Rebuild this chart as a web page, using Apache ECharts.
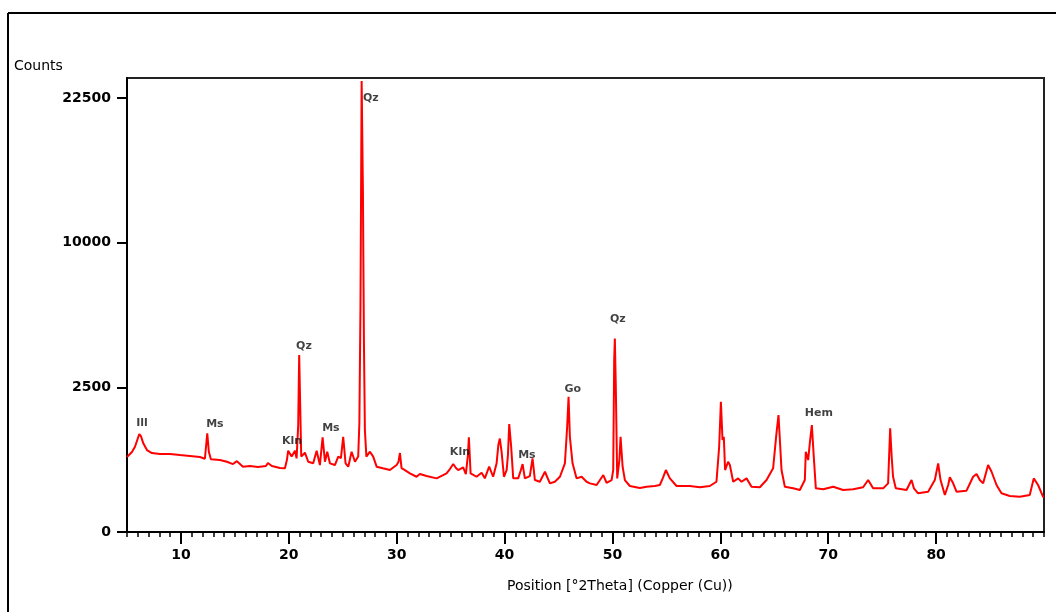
<!DOCTYPE html>
<html>
<head>
<meta charset="utf-8">
<script src="https://cdn.jsdelivr.net/npm/echarts@6/dist/echarts.min.js"></script>
<style>
  html, body { margin: 0; padding: 0; background: #fff; }
  #chart { width: 1056px; height: 612px; }
</style>
</head>
<body>
<div id="chart"></div>
<script>
// 2Theta positions (deg) and counts
const theta = [
  5.00, 5.46, 5.74, 6.14, 6.29, 6.51, 6.85, 7.31, 8.05, 8.98, 9.91, 10.83, 11.76, 12.22, 12.44, 12.59, 12.78,
  13.61, 14.26, 14.82, 15.19, 15.75, 16.39, 17.14, 17.88, 18.06, 18.43, 19.18, 19.64, 19.82, 19.94, 20.26,
  20.57, 20.72, 20.87, 20.96, 21.06, 21.15, 21.49, 21.80, 22.26, 22.58, 22.88, 23.13, 23.35, 23.56, 23.81,
  24.27, 24.58, 24.83, 25.04, 25.26, 25.51, 25.82, 26.13, 26.43, 26.54, 26.64, 26.75, 26.87, 26.96, 27.05,
  27.19, 27.52, 27.82, 28.14, 28.72, 29.37, 29.99, 30.16, 30.30, 30.45, 30.76, 31.22, 31.84, 32.15, 32.77,
  33.70, 34.62, 34.93, 35.24, 35.49, 35.70, 36.16, 36.41, 36.60, 36.69, 36.85, 37.40, 37.87, 38.17, 38.57,
  38.94, 39.26, 39.42, 39.56, 39.72, 39.94, 40.19, 40.31, 40.43, 40.61, 40.80, 41.26, 41.51, 41.67, 41.88,
  42.34, 42.59, 42.81, 43.27, 43.74, 44.20, 44.66, 45.13, 45.59, 45.80, 45.93, 46.05, 46.30, 46.67, 47.14,
  47.60, 47.91, 48.53, 49.15, 49.45, 49.92, 50.07, 50.16, 50.22, 50.31, 50.44, 50.64, 50.75, 50.94, 51.15,
  51.61, 52.54, 53.16, 53.92, 54.39, 54.67, 54.95, 55.32, 55.94, 57.17, 58.10, 59.02, 59.64, 59.89, 60.05,
  60.20, 60.32, 60.44, 60.72, 60.88, 61.19, 61.65, 61.96, 62.43, 62.89, 63.66, 64.28, 64.89, 65.20, 65.39,
  65.51, 65.67, 65.98, 66.75, 67.37, 67.83, 67.92, 68.14, 68.29, 68.48, 68.66, 68.85, 69.53, 70.46, 71.38,
  72.31, 73.23, 73.70, 74.16, 75.09, 75.55, 75.74, 75.89, 76.01, 76.26, 77.26, 77.72, 77.94, 78.33, 79.26,
  79.88, 80.19, 80.41, 80.81, 81.12, 81.27, 81.58, 81.89, 82.82, 83.43, 83.75, 84.05, 84.36, 84.82, 85.14,
  85.60, 86.06, 86.83, 87.76, 88.68, 89.05, 89.45, 89.91, 90.00
];
const counts = [
  672, 765, 869, 1148, 1101, 940, 803, 746, 727, 727, 708, 690, 672, 642, 1164, 765, 632,
  619, 590, 552, 600, 510, 520, 505, 520, 570, 520, 489, 485, 619, 790, 680,
  790, 648, 1368, 3743, 1830, 680, 752, 590, 564, 790, 536, 1072, 590, 771, 564,
  536, 680, 654, 1085, 564, 510, 771, 590, 680, 1420, 5979, 24336, 13707, 4405, 1243,
  680, 771, 680, 510, 485, 459, 536, 585, 746, 489, 459, 411, 365, 402, 374,
  344, 411, 474, 552, 489, 459, 500, 402, 708, 1072, 411, 365, 420, 344, 510,
  365, 564, 904, 1045, 771, 365, 459, 708, 1394, 869, 344, 344, 459, 552, 344,
  374, 648, 323, 302, 434, 283, 302, 365, 564, 1325, 2187, 1085, 564, 344, 365,
  302, 283, 264, 388, 290, 323, 459, 3535, 4480, 2500, 344, 619, 1085, 510, 323,
  253, 231, 245, 253, 264, 348, 459, 344, 253, 253, 239, 253, 302, 869, 2030,
  1011, 1085, 459, 590, 536, 302, 344, 302, 344, 245, 239, 323, 485, 1164, 1636,
  1045, 459, 245, 228, 211, 323, 771, 619, 940, 1368, 680, 228, 218, 245, 211,
  218, 239, 323, 228, 228, 283, 1285, 648, 365, 228, 211, 323, 228, 179, 194,
  323, 564, 323, 164, 264, 358, 283, 194, 204, 365, 402, 323, 283, 536, 434,
  264, 179, 155, 149, 164, 344, 264, 149, 146
];

// phase labels above the peaks
const peakNames = ["Ill", "Ms", "Kln", "Qz", "Ms", "Qz", "Kln", "Ms", "Go", "Qz", "Hem"];
const peakTheta = [6.39, 13.15, 20.29, 21.4, 23.9, 27.6, 35.86, 42.07, 46.33, 50.5, 69.13];
const peakCounts = [1420, 1395, 990, 4134, 1292, 22500, 765, 708, 2443, 5421, 1692];

// axis ticks (counts axis is square-root scaled)
const yTicks = [0, 2500, 10000, 22500];
const xLabels = [10, 20, 30, 40, 50, 60, 70, 80];

const chart = echarts.init(document.getElementById("chart"));
const FONT = "DejaVu Sans";

const option = {
  animation: false,
  backgroundColor: "#fff",
  textStyle: { fontFamily: FONT },
  title: [
    {
      text: "Counts",
      left: 9,
      top: 54,
      textStyle: { fontSize: 14, fontWeight: "normal", color: "#000", fontFamily: FONT },
    },
    {
      text: "Position [°2Theta] (Copper (Cu))",
      left: 502,
      top: 574,
      textStyle: { fontSize: 14, fontWeight: "normal", color: "#000", fontFamily: FONT },
    },
  ],
  graphic: [
    { type: "line", shape: { x1: 8, y1: 13, x2: 1056, y2: 13 }, style: { stroke: "#000", lineWidth: 2 } },
    { type: "line", shape: { x1: 8, y1: 13, x2: 8, y2: 612 }, style: { stroke: "#000", lineWidth: 2 } },
  ],
  grid: {
    left: 127,
    top: 78,
    right: 12,
    bottom: 80,
    show: true,
    borderColor: "#222",
    borderWidth: 2,
  },
  xAxis: [
    {
      type: "value",
      min: 5,
      max: 90,
      interval: 1,
      axisLine: { lineStyle: { color: "#000", width: 2 } },
      axisTick: { show: true, length: 5, lineStyle: { color: "#000", width: 1.5 } },
      axisLabel: { show: false },
      splitLine: { show: false },
    },
    {
      type: "value",
      min: 5,
      max: 90,
      position: "bottom",
      axisLine: { show: false },
      axisTick: { show: true, length: 12, customValues: xLabels, lineStyle: { color: "#000", width: 2 } },
      axisLabel: {
        customValues: xLabels,
        margin: 16,
        fontSize: 14,
        fontWeight: "bold",
        color: "#000",
      },
      splitLine: { show: false },
    },
  ],
  yAxis: {
    type: "value",
    min: 0,
    max: 157,
    axisLine: { show: true, lineStyle: { color: "#000", width: 2 } },
    axisTick: {
      show: true,
      length: 10,
      customValues: yTicks.map(Math.sqrt),
      lineStyle: { color: "#000", width: 2 },
    },
    axisLabel: {
      customValues: yTicks.map(Math.sqrt),
      formatter: (v) => String(Math.round(v * v)),
      margin: 16,
      fontSize: 14,
      fontWeight: "bold",
      color: "#000",
    },
    splitLine: { show: false },
  },
  series: [
    {
      name: "scan",
      type: "line",
      xAxisIndex: 0,
      showSymbol: false,
      symbol: "none",
      lineStyle: { color: "#ff0000", width: 2 },
      data: theta.map((t, i) => [t, Math.sqrt(counts[i])]),
      z: 3,
    },
    {
      name: "phases",
      type: "scatter",
      xAxisIndex: 0,
      symbolSize: 0,
      silent: true,
      label: {
        show: true,
        position: "inside",
        formatter: (p) => p.data[2],
        fontSize: 11,
        fontWeight: "bold",
        color: "#111",
      },
      data: peakTheta.map((t, i) => [t, Math.sqrt(peakCounts[i]), peakNames[i]]),
      z: 4,
    },
  ],
};

chart.setOption(option);
window.onresize = function () {
  chart.resize();
};
</script>
</body>
</html>
